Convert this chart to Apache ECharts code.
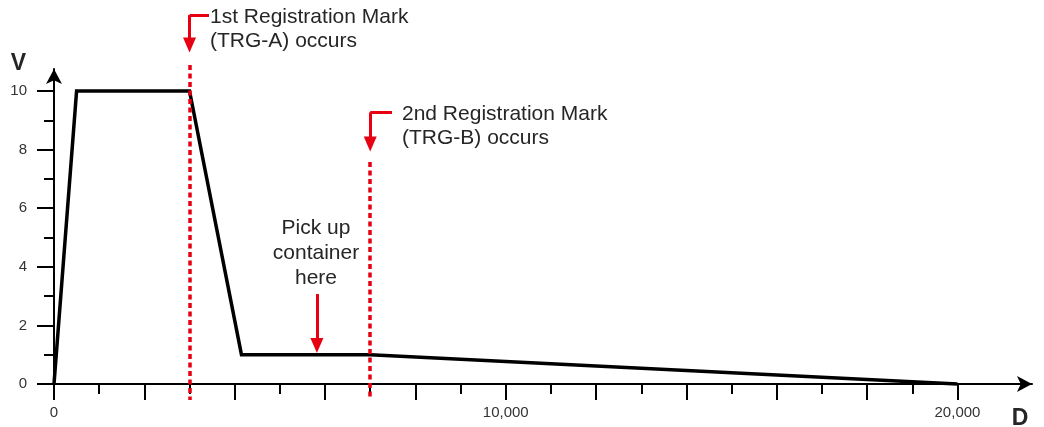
<!DOCTYPE html>
<html>
<head>
<meta charset="utf-8">
<script src="https://cdn.jsdelivr.net/npm/echarts@6/dist/echarts.min.js"></script>
<style>
  html, body { margin: 0; padding: 0; background: #fff; }
  #chart { width: 1044px; height: 427px; }
</style>
</head>
<body>
<div id="chart"></div>
<script>
// velocity profile (D = distance, V = velocity)
const profileD = [0, 500, 3000, 4150, 7000, 20000];
const profileV = [0, 10, 10, 1, 1, 0];

// registration marks + pick up point
const markD = [3000, 7000];
const pickupD = 5820;

// axis ticks / labels
const xMajorTicks = [0, 2000, 4000, 6000, 8000, 10000, 12000, 14000, 16000, 18000, 20000];
const xMinorTicks = [1000, 3000, 5000, 7000, 9000, 11000, 13000, 15000, 17000, 19000];
const xLabels = [0, 10000, 20000];
const yMajorTicks = [0, 2, 4, 6, 8, 10];
const yMinorTicks = [1, 3, 5, 7, 9];

const RED = '#e60012';
const TXT = '#262626';
const FONT = 'Arial, "Liberation Sans", sans-serif';

// layout
const L = 54, R = 12, B = 43, TOP = 69, H = 427;
const unit = 29.3;           // px per V unit
const xMax = 21650;
const yMaxVisible = (H - B - TOP) / unit;

const chart = echarts.init(document.getElementById('chart'));

const tickStyle = { color: '#000', width: 2 };

// red note line, optional triangle head at the end
function redLine(from, to, arrow) {
  return [
    { coord: from, symbol: 'none' },
    { coord: to, symbol: arrow ? 'triangle' : 'none', symbolSize: [13, 15] }
  ];
}

const option = {
  animation: false,
  grid: [
    { left: L, right: R, bottom: B, top: TOP, outerBoundsMode: 'none' },
    // hidden grid, same scale, more head room for the notes
    { left: L, right: R, bottom: B - unit, top: H - (B - unit) - 14 * unit, outerBoundsMode: 'none' }
  ],
  xAxis: [
    {
      gridIndex: 0, type: 'value', min: 0, max: xMax, position: 'bottom',
      axisLine: { show: true, onZero: false, symbol: ['none', 'arrow'], symbolSize: [12, 15], lineStyle: { color: '#000', width: 2 } },
      axisTick: { show: true, customValues: xMajorTicks, length: 16, lineStyle: tickStyle },
      axisLabel: {
        customValues: xLabels, margin: 21, fontSize: 15, color: '#333', fontFamily: FONT,
        formatter: v => v.toLocaleString('en-US')
      },
      splitLine: { show: false }
    },
    {
      gridIndex: 0, type: 'value', min: 0, max: xMax, position: 'bottom',
      axisLine: { show: false, onZero: false },
      axisTick: { show: true, customValues: xMinorTicks, length: 10, lineStyle: tickStyle },
      axisLabel: { show: false },
      splitLine: { show: false }
    },
    { gridIndex: 1, type: 'value', min: 0, max: xMax, show: false }
  ],
  yAxis: [
    {
      gridIndex: 0, type: 'value', min: 0, max: yMaxVisible, position: 'left',
      axisLine: { show: true, onZero: false, symbol: ['none', 'arrow'], symbolSize: [12, 15], lineStyle: { color: '#000', width: 2 } },
      axisTick: { show: true, customValues: yMajorTicks, length: 17, lineStyle: tickStyle },
      axisLabel: { customValues: yMajorTicks, margin: 27, fontSize: 15, color: '#333', fontFamily: FONT },
      splitLine: { show: false }
    },
    {
      gridIndex: 0, type: 'value', min: 0, max: yMaxVisible, position: 'left',
      axisLine: { show: false, onZero: false },
      axisTick: { show: true, customValues: yMinorTicks, length: 10, lineStyle: tickStyle },
      axisLabel: { show: false },
      splitLine: { show: false }
    },
    { gridIndex: 1, type: 'value', min: -1, max: 13, show: false }
  ],
  series: [
    {
      type: 'line',
      xAxisIndex: 2, yAxisIndex: 2,
      data: profileD.map((d, i) => [d, profileV[i]]),
      symbol: 'none',
      clip: false,
      lineStyle: { color: '#000', width: 3.5, join: 'miter' },
      markLine: {
        silent: true,
        animation: false,
        label: { show: false },
        emphasis: { disabled: true },
        lineStyle: { color: RED, width: 3, type: 'solid' },
        data: [
          // dashed registration lines
          [{ coord: [markD[0], 10.89], symbol: 'none', lineStyle: { type: [5, 3.5], width: 3.5 } },
           { coord: [markD[0], -0.55], symbol: 'none' }],
          [{ coord: [markD[1], 7.58], symbol: 'none', lineStyle: { type: [5, 3.5], width: 3.5 } },
           { coord: [markD[1], -0.55], symbol: 'none' }],
          // bent arrow TRG-A
          redLine([3431, 12.59], [markD[0], 12.59], false),
          redLine([markD[0], 12.59], [markD[0], 11.57], true),
          // bent arrow TRG-B
          redLine([7483, 9.27], [markD[1], 9.27], false),
          redLine([markD[1], 9.27], [markD[1], 8.19], true),
          // pick up arrow
          redLine([pickupD, 3.07], [pickupD, 1.31], true)
        ]
      }
    }
  ],
  graphic: [
    { type: 'text', x: 210, y: 5, style: { text: '1st Registration Mark\n(TRG-A) occurs', font: '21px ' + FONT, fill: TXT, lineHeight: 24, verticalAlign: 'top' } },
    { type: 'text', x: 402, y: 102, style: { text: '2nd Registration Mark\n(TRG-B) occurs', font: '21px ' + FONT, fill: TXT, lineHeight: 24, verticalAlign: 'top' } },
    { type: 'text', x: 316, y: 216, style: { text: 'Pick up\ncontainer\nhere', font: '21px ' + FONT, fill: TXT, lineHeight: 25, align: 'center', verticalAlign: 'top' } },
    { type: 'text', x: 18.5, y: 75, style: { text: 'V', font: 'bold 23px ' + FONT, fill: TXT, align: 'center', verticalAlign: 'bottom' } },
    { type: 'text', x: 1020, y: 430, style: { text: 'D', font: 'bold 23px ' + FONT, fill: TXT, align: 'center', verticalAlign: 'bottom' } }
  ]
};

chart.setOption(option);
</script>
</body>
</html>
